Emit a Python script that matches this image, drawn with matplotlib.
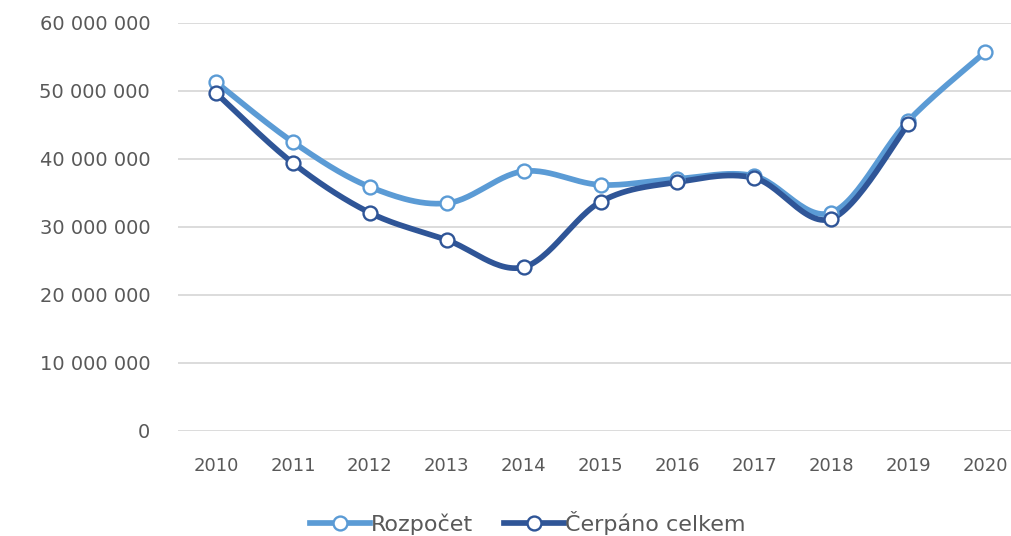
import numpy as np
import matplotlib
matplotlib.use('Agg')
from matplotlib import pyplot as plt
from matplotlib.lines import Line2D

years = ['2010', '2011', '2012', '2013', '2014', '2015',
         '2016', '2017', '2018', '2019', '2020']
rozpocet = [51.3, 42.5, 35.9, 33.5, 38.2, 36.2, 37.1, 37.5, 32.1, 45.6, 55.7]
cerpano = [49.7, 39.4, 32.1, 28.1, 24.1, 33.7, 36.6, 37.2, 31.2, 45.1]
y_ticks = [0, 10, 20, 30, 40, 50, 60]

light = '#5b9bd5'
dark = '#2f5597'
grey = '#595959'


def smooth(xs, ys, steps=30):
    # Excel-like smoothing: cubic Bezier with Catmull-Rom control points
    pts = np.column_stack([xs, ys]).astype(float)
    n = len(pts)
    out = []
    for i in range(n - 1):
        p0 = pts[max(i - 1, 0)]
        p1 = pts[i]
        p2 = pts[i + 1]
        p3 = pts[min(i + 2, n - 1)]
        b1 = p1 + (p2 - p0) / 6
        b2 = p2 - (p3 - p1) / 6
        t = np.linspace(0, 1, steps)[:, None]
        seg = ((1 - t) ** 3 * p1 + 3 * (1 - t) ** 2 * t * b1
               + 3 * (1 - t) * t ** 2 * b2 + t ** 3 * p2)
        out.append(seg if i == 0 else seg[1:])
    out = np.vstack(out)
    return out[:, 0], out[:, 1]


plt.rcParams['font.family'] = ['DejaVu Sans']

fig = plt.figure(figsize=(10.12, 5.36), dpi=100)
ax = fig.add_axes([178 / 1012, 105 / 536, 1 - 178 / 1012, 408 / 536])

series = [(rozpocet, light, 'Rozpočet'), (cerpano, dark, 'Čerpáno celkem')]
handles = []
for values, color, label in series:
    xs = np.arange(len(values))
    vals = np.array(values) * 1e6
    sx, sy = smooth(xs, vals)
    ax.plot(sx, sy, color=color, lw=4.1, solid_capstyle='round', zorder=3)
    ax.plot(xs, vals, ls='none', marker='o', ms=10, mfc='white',
            mec=color, mew=1.7, zorder=4)
    handles.append(Line2D([], [], color=color, lw=4.1, marker='o', ms=10,
                          mfc='white', mec=color, mew=1.7, label=label))

ax.set_xlim(-0.494, 10.35)
ax.set_ylim(0, 60e6)
ax.set_xticks(np.arange(len(years)))
ax.set_xticklabels(years)
ax.set_yticks([v * 1e6 for v in y_ticks])
ax.set_yticklabels([f'{v * 1000000:,}'.replace(',', ' ') for v in y_ticks])
ax.grid(axis='y', color='#d9d9d9', lw=1.3)
ax.set_axisbelow(True)
for side in ax.spines.values():
    side.set_visible(False)
ax.tick_params(axis='both', length=0, colors=grey, labelsize=13)
ax.tick_params(axis='y', pad=20, labelsize=14)
ax.tick_params(axis='x', pad=19)

fig.legend(handles=handles, loc='center', bbox_to_anchor=(528 / 1012, 1 - 523 / 536),
           ncol=2, frameon=False, fontsize=16, labelcolor=grey,
           handlelength=2.7, handletextpad=0.05, columnspacing=1.4)

plt.savefig('out.png', dpi=100)
